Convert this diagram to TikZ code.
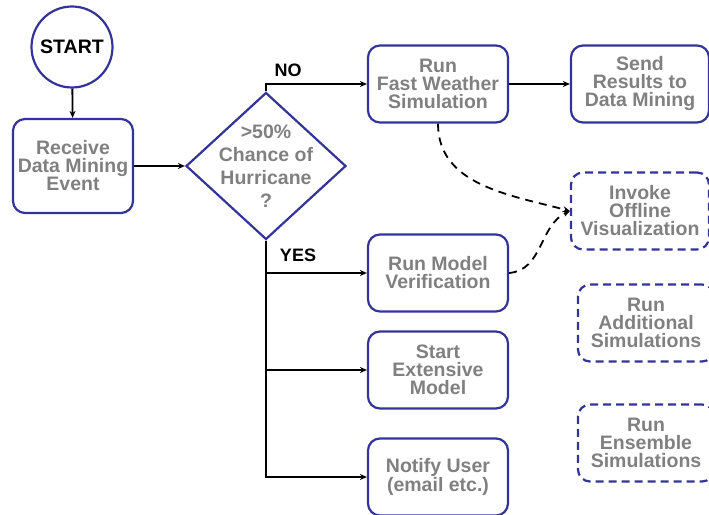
\documentclass[tikz,border=0pt]{standalone}
\usepackage{fontspec}
\setmainfont{Liberation Sans}
\usetikzlibrary{shapes.geometric,arrows.meta}

\definecolor{boxblue}{RGB}{51,51,153}
\definecolor{boxtext}{RGB}{128,128,128}

\begin{document}
\begin{tikzpicture}[x=1pt,y=1pt,
  >={Stealth[length=7pt,width=6pt]},
  flow/.style={line width=1.8pt},
  later/.style={line width=1.8pt, dash pattern=on 8pt off 6pt},
  stepbox/.style={draw=boxblue, line width=2.2pt, rounded corners=12pt,
    align=center, text=boxtext, inner sep=0pt,
    font=\bfseries\fontsize{19.5}{18}\selectfont,
    minimum width=140pt, minimum height=77pt},
  optbox/.style={stepbox, dash pattern=on 8pt off 5pt, minimum width=136pt},
  decide/.style={diamond, draw=boxblue, line width=2.2pt, align=center,
    text=boxtext, inner sep=-8pt,
    font=\bfseries\fontsize{19.5}{23}\selectfont,
    minimum width=160pt, minimum height=147pt},
  startcircle/.style={circle, draw=boxblue, line width=2.2pt,
    minimum size=81pt, inner sep=0pt, font=\bfseries\fontsize{19.5}{20}\selectfont},
  answer/.style={font=\bfseries\fontsize{18}{20}\selectfont}]
\useasboundingbox (0,0) rectangle (709,514);

%Nodes
\node[startcircle] (start) at (72,467) {START};
\node[stepbox, minimum width=120pt, minimum height=94pt] (receive) at (73,348) {Receive\\Data Mining\\Event};
\node[decide] (decision) at (266,348) {>50\%\\Chance of\\Hurricane\\?};

\node[stepbox] (fastsim) at (438,430) {Run\\Fast Weather\\Simulation};
\node[stepbox, minimum width=138pt] (sendres) at (640,430) {Send\\Results to\\Data Mining};

\node[stepbox] (runmodel) at (438,241) {Run Model\\Verification};
\node[stepbox] (startext) at (438,144) {Start\\Extensive\\Model};
\node[stepbox] (notify) at (438,37) {Notify User\\(email etc.)};

\node[optbox, minimum width=138pt] (invoke) at (640,303) {Invoke\\Offline\\Visualization};
\node[optbox] (addsim) at (646,191) {Run\\Additional\\Simulations};
\node[optbox] (ensemble) at (646,71) {Run\\Ensemble\\Simulations};

\node[answer] (nolabel) at (288,444) {NO};
\node[answer] (yeslabel) at (298,259) {YES};

%Lines
\draw[flow,->] (start) -- (receive);
\draw[flow,->] (receive) -- (decision);

\draw[flow,->] (decision.north) |- (fastsim);
\draw[flow,->] (fastsim) -- (sendres);

\draw[flow,->] (decision.south) |- (runmodel);
\draw[flow,->] (decision.south) |- (startext);
\draw[flow,->] (decision.south) |- (notify);

\draw[later,->] (fastsim.south) to[out=-90, in=165] (invoke.west);
\draw[later,->] (runmodel.east) to[out=5, in=205] (invoke.west);
\end{tikzpicture}
\end{document}
